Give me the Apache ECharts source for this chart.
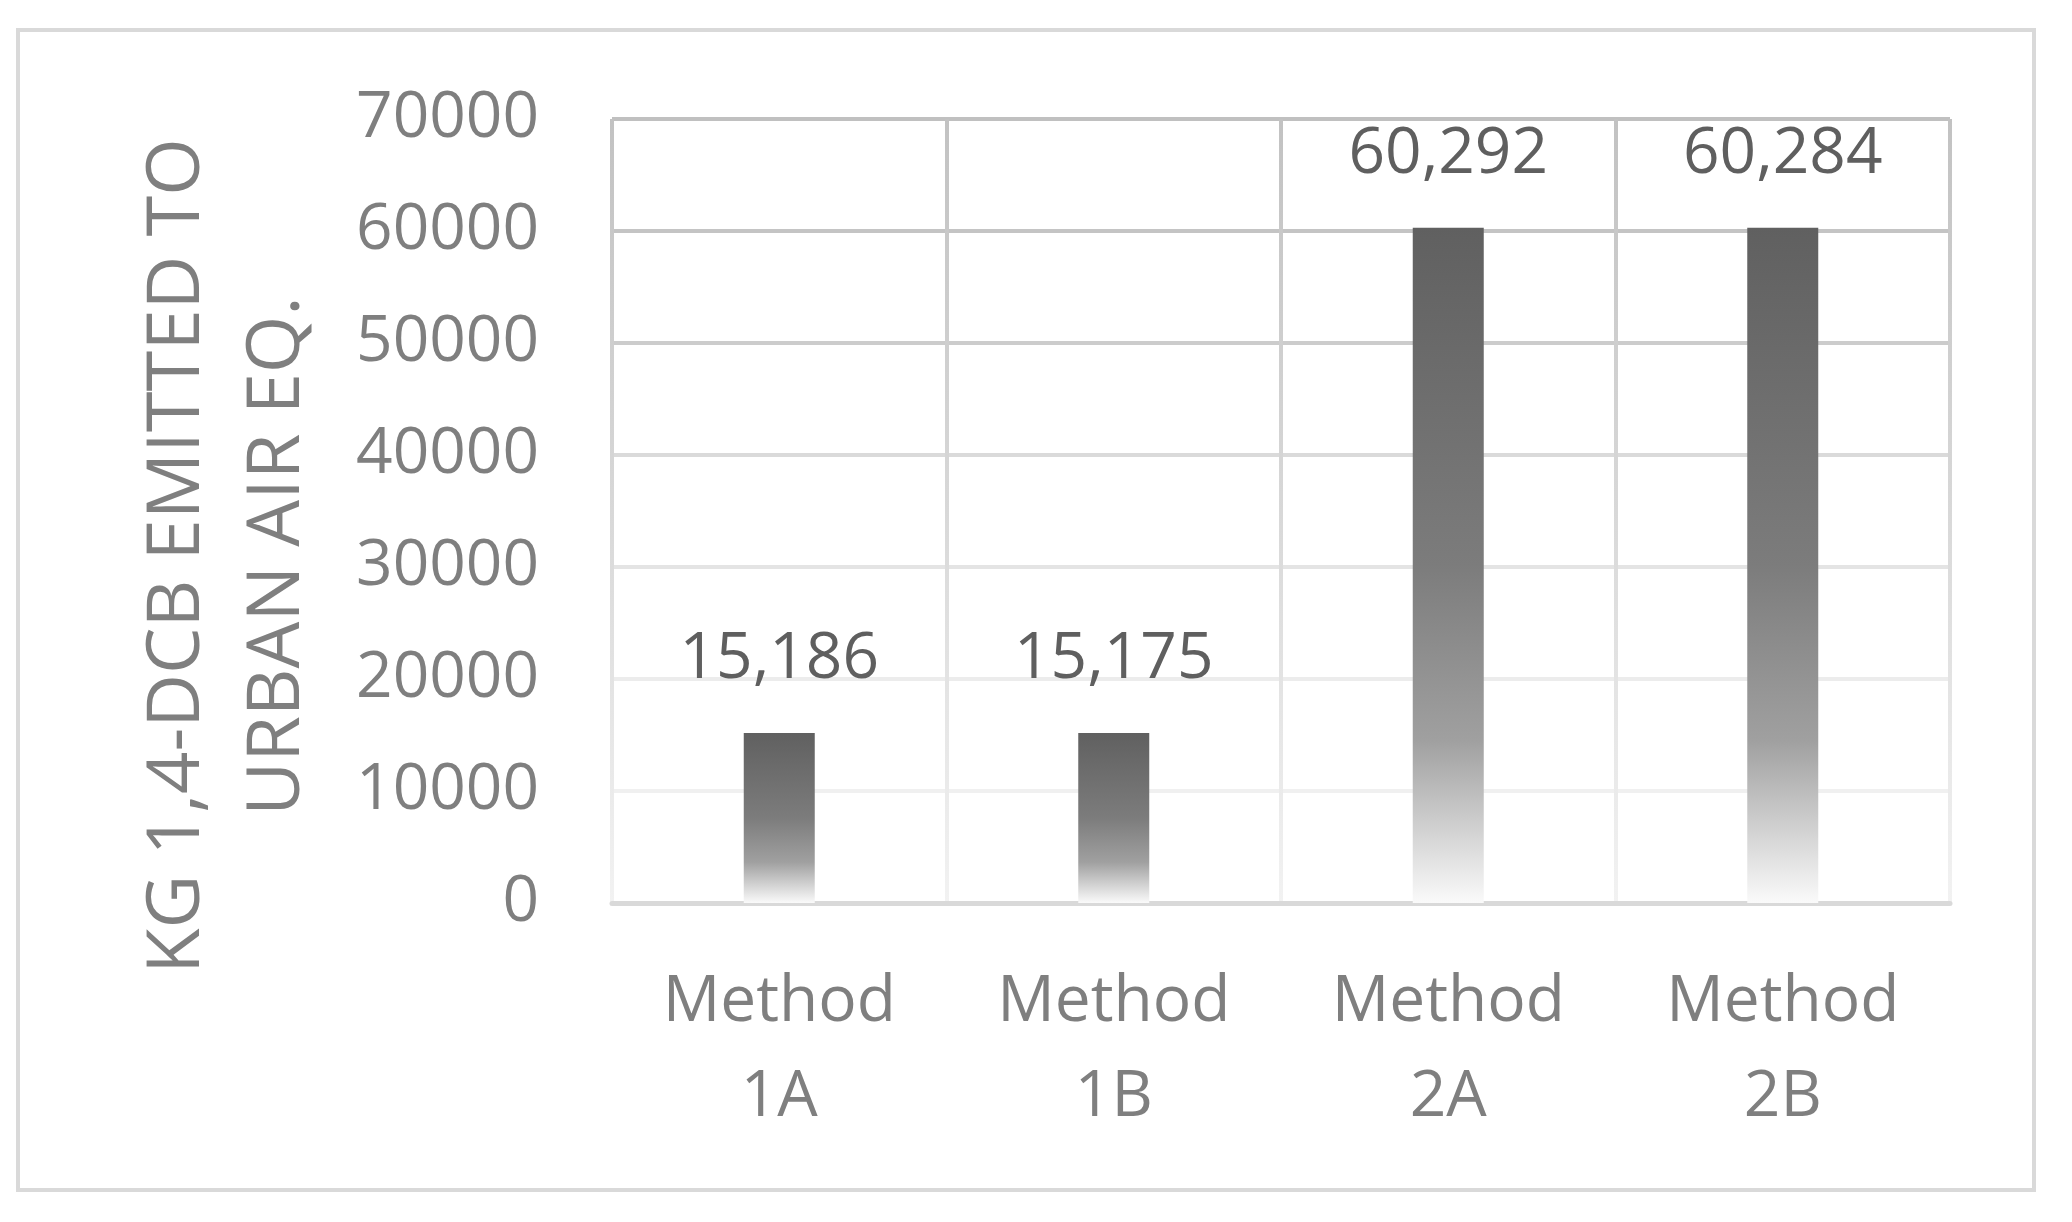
<!DOCTYPE html>
<html>
<head>
<meta charset="utf-8">
<script src="https://cdn.jsdelivr.net/npm/echarts@6/dist/echarts.min.js"></script>
<style>
html,body{margin:0;padding:0;background:#fff;}
#chart{width:2072px;height:1222px;}
</style>
</head>
<body>
<div id="chart"></div>
<script>
const categories = ['Method\n1A', 'Method\n1B', 'Method\n2A', 'Method\n2B'];
const values = [15186, 15175, 60292, 60284];
const yTicks = [0, 10000, 20000, 30000, 40000, 50000, 60000, 70000];
const yAxisTitle = 'KG 1,4-DCB EMITTED TO\nURBAN AIR EQ.';

const FONT = '"Open Sans", "Noto Sans", sans-serif';
const chart = echarts.init(document.getElementById('chart'), null, {renderer: 'canvas'});

const barGradient = {
  type: 'linear', x: 0, y: 0, x2: 0, y2: 1,
  colorStops: [
    {offset: 0, color: '#606060'},
    {offset: 0.5, color: '#7c7c7c'},
    {offset: 0.76, color: '#a0a0a0'},
    {offset: 1, color: '#fafafa'}
  ]
};

chart.setOption({
  animation: false,
  backgroundColor: '#ffffff',
  graphic: [{
    type: 'rect',
    shape: {x: 18, y: 30, width: 2016, height: 1160},
    style: {fill: 'none', stroke: '#d9d9d9', lineWidth: 4},
    z: -10
  }],
  grid: {left: 612, right: 122, top: 119, bottom: 319},
  xAxis: {
    type: 'category',
    data: categories,
    axisLine: {show: true, lineStyle: {color: '#d9d9d9', width: 5}},
    axisTick: {show: false},
    splitLine: {
      show: true,
      lineStyle: {
        width: 4,
        color: {
          type: 'linear', x: 0, y: 119, x2: 0, y2: 903, global: true,
          colorStops: [
            {offset: 0, color: '#c2c2c2'},
            {offset: 0.5, color: '#d8d8d8'},
            {offset: 1, color: '#f2f2f2'}
          ]
        }
      }
    },
    axisLabel: {
      color: '#7f7f7f', fontFamily: FONT, fontSize: 64,
      lineHeight: 95, margin: 52, interval: 0
    }
  },
  yAxis: {
    type: 'value',
    min: 0, max: 70000, interval: 10000,
    axisLine: {show: false},
    axisTick: {show: false},
    splitLine: {
      show: true,
      lineStyle: {
        width: 4,
        color: ['#f2f2f2', '#f0f0f0', '#ececec', '#e4e4e4', '#dadada', '#cccccc', '#c4c4c4', '#c0c0c0']
      }
    },
    axisLabel: {
      color: '#7f7f7f', fontFamily: FONT, fontSize: 64, margin: 73,
      padding: [10, 0, 0, 0],
      formatter: function (v) { return yTicks.indexOf(v) >= 0 ? String(v) : ''; }
    },
    name: yAxisTitle,
    nameLocation: 'middle',
    nameRotate: 90,
    nameGap: 284,
    nameTextStyle: {
      color: '#7f7f7f', fontFamily: FONT, fontSize: 74, lineHeight: 100,
      padding: [0, 90, 0, 0]
    }
  },
  series: [{
    type: 'bar',
    data: values,
    barWidth: 71,
    itemStyle: {color: barGradient},
    label: {
      show: true, position: 'top', distance: 41,
      color: '#5f5f5f', fontFamily: FONT, fontSize: 64,
      formatter: function (p) { return p.value.toLocaleString('en-US'); }
    }
  }]
});
</script>
</body>
</html>
